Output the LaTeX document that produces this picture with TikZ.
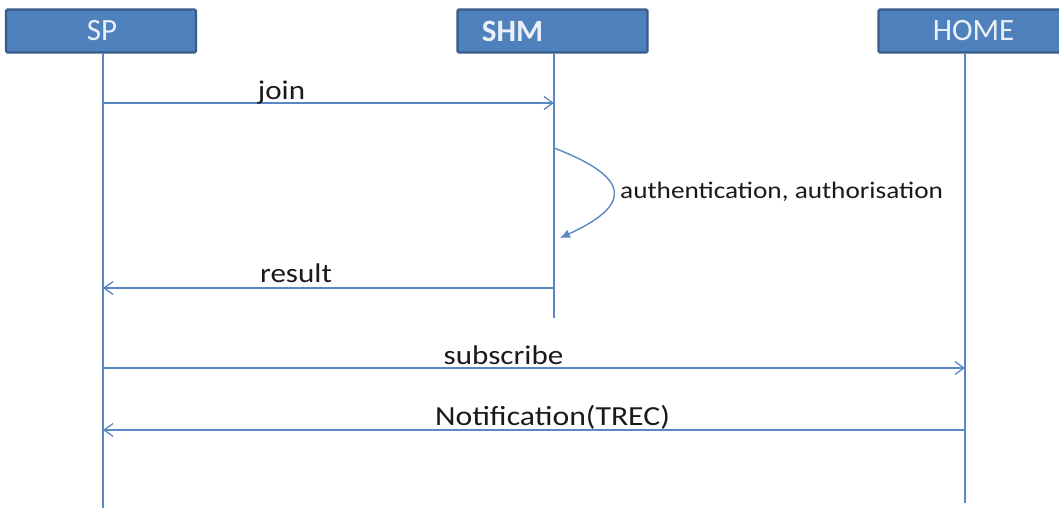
\documentclass[tikz,border=0pt]{standalone}
\usepackage{fontspec}
\setmainfont{Carlito}
\newfontfamily\lblfont[FakeStretch=1.15]{Carlito}
\usetikzlibrary{arrows.meta}
\definecolor{boxfill}{HTML}{4F81BD}
\definecolor{boxedge}{HTML}{385D8A}
\definecolor{boxtext}{HTML}{EAF0F7}
\definecolor{wire}{HTML}{5B87C2}
\definecolor{ink}{HTML}{1A1A1A}
\tikzset{
  actor/.style={draw=boxedge, line width=2.2pt, fill=boxfill, rounded corners=1.5pt,
    minimum width=190pt, minimum height=43pt, inner sep=0pt},
  actorlabel/.style={text=boxtext, font=\fontsize{31}{36}\selectfont, inner sep=0pt},
  lifeline/.style={draw=wire, line width=1.5pt},
  msg/.style={draw=wire, line width=1.4pt, -{Straight Barb[length=9pt, width=13pt, line width=1.3pt]}},
  selfmsg/.style={draw=wire, line width=1.4pt, -{Latex[length=10pt, width=9pt]}},
  msglabel/.style={text=ink, font=\lblfont\fontsize{27}{32}\selectfont, inner sep=0pt, anchor=base},
  notelabel/.style={text=ink, font=\lblfont\fontsize{23.7}{28}\selectfont, inner sep=0pt, anchor=base west},
}
\begin{document}
\begin{tikzpicture}[x=1pt, y=-1pt]
  \useasboundingbox (0,0) rectangle (1059,508);
  \begin{scope}
    \clip (0,0) rectangle (1059,508);
    % participants
    \node[actor] (sp)   at (101,31) {};
    \node[actor] (shm)  at (552.5,31) {};
    \node[actor] (home) at (973.5,31) {};
  \end{scope}
  \node[actorlabel] (splbl)   at (102,31)   {SP};
  \node[actorlabel, font=\bfseries\fontsize{31}{36}\selectfont] (shmlbl) at (512.5,31) {SHM};
  \node[actorlabel] (homelbl) at (973.5,31) {HOME};

  % lifelines
  \coordinate (spTop)   at (103,53);
  \coordinate (spEnd)   at (103,508);
  \coordinate (shmTop)  at (554,53);
  \coordinate (shmEnd)  at (554,318);
  \coordinate (homeTop) at (965,53);
  \coordinate (homeEnd) at (965,503);
  \draw[lifeline] (spTop) -- (spEnd);
  \draw[lifeline] (shmTop) -- (shmEnd);
  \draw[lifeline] (homeTop) -- (homeEnd);

  % message anchor points on the lifelines
  \coordinate (spJoin)    at (103,103);
  \coordinate (shmJoin)   at (554,103);
  \coordinate (shmAuthA)  at (554,148);
  \coordinate (shmAuthB)  at (560,238);
  \coordinate (shmRes)    at (554,288);
  \coordinate (spRes)     at (103,288);
  \coordinate (spSub)     at (103,368);
  \coordinate (homeSub)   at (965,368);
  \coordinate (homeNote)  at (965,430);
  \coordinate (spNote)    at (103,430);

  % messages
  \draw[msg] (spJoin) -- (shmJoin);
  \node[msglabel] (joinlbl) at (281.5,100) {join};

  \draw[selfmsg] (shmAuthA) .. controls (632,178) and (632,205) .. (shmAuthB);
  \node[notelabel] (authlbl) at (620,198) {authentication, authorisation};

  \draw[msg] (shmRes) -- (spRes);
  \node[msglabel] (reslbl) at (296,282) {result};

  \draw[msg] (spSub) -- (homeSub);
  \node[msglabel] (sublbl) at (503.5,364) {subscribe};

  \draw[msg] (homeNote) -- (spNote);
  \node[msglabel, font=\lblfont\fontsize{27.6}{32}\selectfont] (notelbl) at (552.5,425.5) {Notification(TREC)};
\end{tikzpicture}
\end{document}
